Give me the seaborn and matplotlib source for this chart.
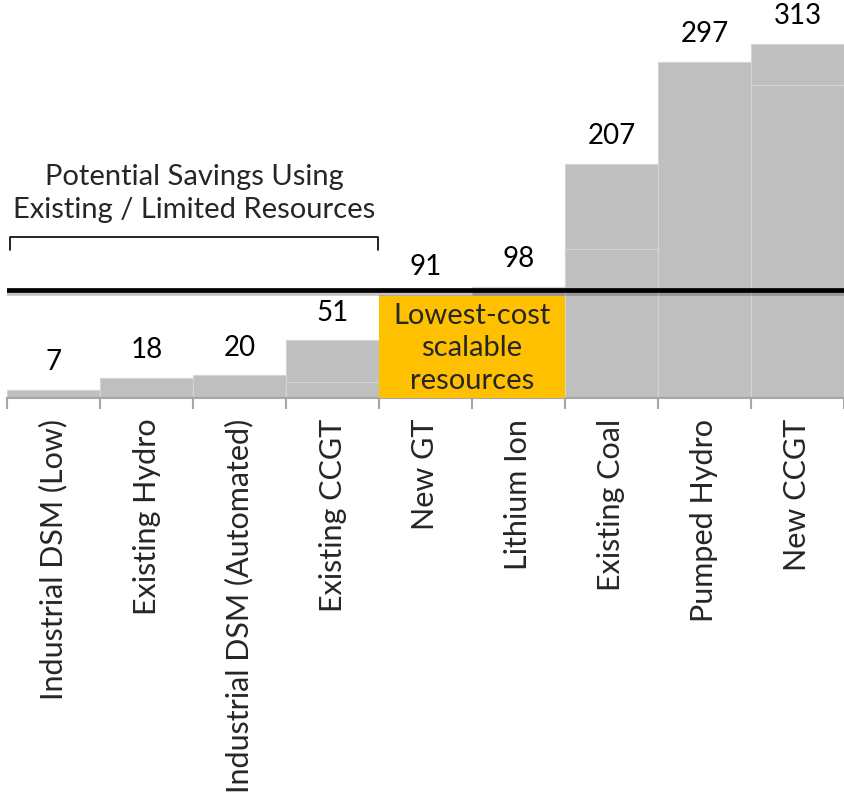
import matplotlib
matplotlib.use("Agg")
import matplotlib.pyplot as plt
import matplotlib.patheffects as pe
from matplotlib.patches import Rectangle
import numpy as np
import pandas as pd
import seaborn as sns

resources = ["Industrial DSM (Low)", "Existing Hydro", "Industrial DSM (Automated)",
             "Existing CCGT", "New GT", "Lithium Ion", "Existing Coal",
             "Pumped Hydro", "New CCGT"]
costs = [7, 18, 20, 51, 91, 98, 207, 297, 313]
# lower segment of the stacked bars (faint line inside some bars)
lower_part = [0, 0, 0, 14, 0, 0, 132, 0, 277]
threshold = 95.5
savings_group = ["Industrial DSM (Low)", "Existing Hydro",
                 "Industrial DSM (Automated)", "Existing CCGT"]
scalable_group = ["New GT", "Lithium Ion"]

sns.set_theme(style="white")
plt.rcParams["font.family"] = ["Lato", "DejaVu Sans"]

df = pd.DataFrame({"resource": resources, "cost": costs, "lower": lower_part})

fig = plt.figure(figsize=(8.45, 8.0), dpi=100)
ax = fig.add_axes([0.0083, 0.5025, 0.9905, 0.4975])

bar_grey = "#BFBFBF"
sns.barplot(data=df, x="resource", y="cost", color=bar_grey, width=1.0,
            saturation=1, edgecolor="#D4D4D4", linewidth=0.8, ax=ax)
sns.barplot(data=df[df["lower"] > 0], x="resource", y="lower", order=resources,
            fill=False, width=1.0, edgecolor="#D4D4D4", linewidth=0.8, ax=ax)

ax.set_xlim(-0.5, len(resources) - 0.5)
ax.set_ylim(0, 352)

# value labels
for i, v in enumerate(costs):
    ax.annotate(str(v), (i, v), xytext=(0, 20), textcoords="offset points",
                ha="center", va="center", fontsize=20, color="black",
                annotation_clip=False)

# lowest-cost box
i0, i1 = resources.index(scalable_group[0]), resources.index(scalable_group[-1])
box_top = min(costs[i0:i1 + 1]) - 1
ax.add_patch(Rectangle((i0 - 0.5, 0), i1 - i0 + 1, box_top,
                       facecolor="#FFC000", edgecolor="none", zorder=3))
ax.text((i0 + i1) / 2, box_top / 2 - 1, "Lowest-cost\nscalable\nresources",
        ha="center", va="center", fontsize=21, linespacing=1.3, zorder=4)

# threshold line with a soft shadow
ax.axhline(threshold, color="black", lw=3.4, zorder=5,
           path_effects=[pe.SimpleLineShadow(offset=(0, -2.5), alpha=0.25),
                         pe.Normal()])

# bracket over existing / limited resources
j1 = resources.index(savings_group[-1])
bx0, bx1, by = -0.47, j1 + 0.49, 142
ax.plot([bx0, bx0, bx1, bx1], [by - 11, by, by, by - 11], color="black",
        lw=1.2, clip_on=False, zorder=5)
ax.text((bx0 + bx1) / 2, by + 13, "Potential Savings Using\nExisting / Limited Resources",
        ha="center", va="bottom", fontsize=21, linespacing=1.3)

# axes styling
sns.despine(ax=ax, left=True)
ax.spines["bottom"].set_color("#A6A6A6")
ax.spines["bottom"].set_linewidth(1.5)
ax.set_yticks([])
ax.set_xlabel("")
ax.set_ylabel("")
ax.set_xticks(range(len(resources)))
ax.set_xticklabels(resources, rotation=90, fontsize=22, va="top")
ax.tick_params(axis="x", which="major", length=0, pad=15)
ax.set_xticks(np.arange(-0.5, len(resources)), minor=True)
ax.tick_params(axis="x", which="minor", length=8, width=1.5, color="#A6A6A6",
               direction="out", bottom=True)

fig.savefig("out.png", dpi=100)
